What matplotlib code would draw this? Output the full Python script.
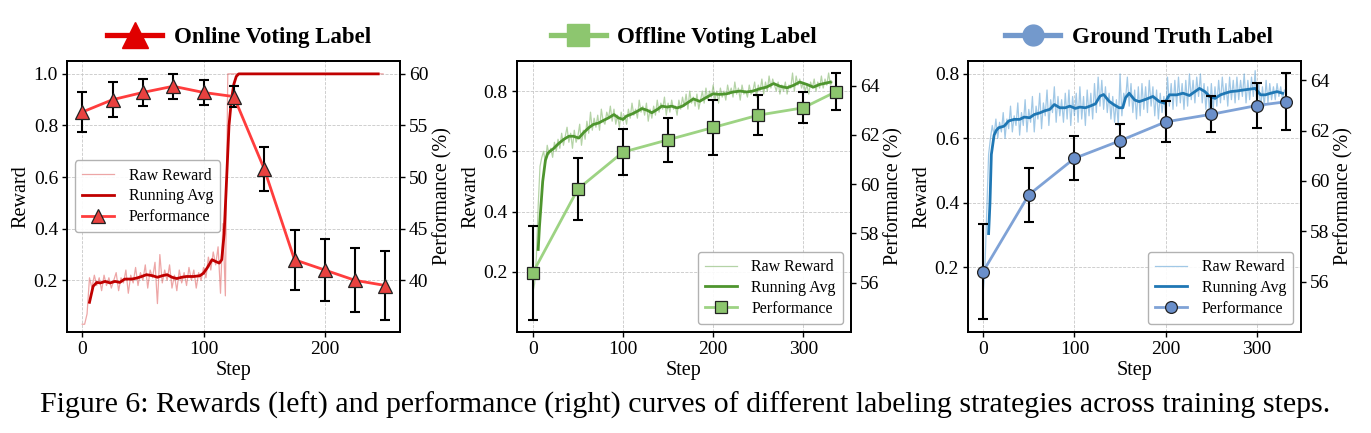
import numpy as np
import matplotlib
matplotlib.use('Agg')
import matplotlib.pyplot as plt
from matplotlib.lines import Line2D

# ---------------- data ----------------
# raw reward sampled every 2 steps
raw_step_1 = np.arange(0, 250, 2)
raw_1 = [0.03, 0.03, 0.07, 0.21, 0.17, 0.22, 0.18, 0.21, 0.16, 0.22,
         0.18, 0.21, 0.17, 0.20, 0.23, 0.16, 0.21, 0.19, 0.24, 0.15,
         0.22, 0.19, 0.25, 0.18, 0.23, 0.20, 0.26, 0.17, 0.24, 0.21,
         0.27, 0.11, 0.30, 0.19, 0.24, 0.20, 0.26, 0.17, 0.22, 0.16,
         0.24, 0.19, 0.23, 0.18, 0.25, 0.20, 0.24, 0.17, 0.23, 0.20,
         0.25, 0.21, 0.29, 0.24, 0.31, 0.26, 0.33, 0.15, 0.42, 0.14] + [1.0] * 65

avg_step_1 = [6, 9, 12, 15, 19, 23, 27, 31, 35, 41, 45, 49, 53, 58, 62, 66, 70,
              74, 78, 82, 86, 92, 97, 100, 103, 107, 110, 113, 115, 117, 119,
              121, 123, 125, 127, 129, 244]
avg_1 = [0.115, 0.177, 0.192, 0.190, 0.196, 0.190, 0.196, 0.192, 0.205, 0.205,
         0.209, 0.215, 0.222, 0.218, 0.212, 0.218, 0.222, 0.212, 0.207, 0.212,
         0.215, 0.215, 0.218, 0.228, 0.248, 0.280, 0.273, 0.267, 0.280, 0.380,
         0.590, 0.800, 0.900, 0.960, 0.990, 1.000, 1.000]

perf_step_1 = [0, 25, 50, 75, 100, 125, 150, 175, 200, 225, 250]
perf_1 = [56.3, 57.5, 58.2, 58.8, 58.2, 57.8, 50.8, 42.0, 41.0, 40.0, 39.5]
perf_err_1 = [1.9, 1.7, 1.3, 1.2, 1.2, 1.0, 2.1, 2.9, 3.0, 3.1, 3.35]

raw_step_2 = np.arange(0, 334, 2)
raw_2 = [0.13, 0.16, 0.25, 0.42, 0.55, 0.58, 0.60, 0.56, 0.62, 0.59,
         0.61, 0.58, 0.63, 0.60, 0.64, 0.61, 0.66, 0.62, 0.65, 0.68,
         0.63, 0.66, 0.61, 0.67, 0.63, 0.65, 0.69, 0.62, 0.67, 0.64,
         0.70, 0.66, 0.73, 0.67, 0.71, 0.68, 0.72, 0.67, 0.74, 0.70,
         0.69, 0.73, 0.71, 0.75, 0.70, 0.74, 0.69, 0.72, 0.68, 0.73,
         0.70, 0.72, 0.69, 0.74, 0.71, 0.76, 0.72, 0.74, 0.71, 0.77,
         0.73, 0.75, 0.72, 0.76, 0.70, 0.74, 0.71, 0.75, 0.72, 0.77,
         0.73, 0.76, 0.74, 0.78, 0.72, 0.76, 0.73, 0.77, 0.74, 0.75,
         0.72, 0.77, 0.74, 0.78, 0.75, 0.79, 0.74, 0.80, 0.76, 0.78,
         0.75, 0.79, 0.74, 0.77, 0.80, 0.76, 0.81, 0.77, 0.80, 0.78,
         0.82, 0.77, 0.80, 0.76, 0.81, 0.78, 0.80, 0.77, 0.82, 0.79,
         0.81, 0.78, 0.83, 0.79, 0.81, 0.77, 0.82, 0.79, 0.80, 0.78,
         0.82, 0.79, 0.80, 0.83, 0.78, 0.82, 0.80, 0.84, 0.79, 0.83,
         0.80, 0.85, 0.81, 0.84, 0.82, 0.80, 0.83, 0.79, 0.82, 0.80,
         0.83, 0.79, 0.82, 0.81, 0.86, 0.80, 0.85, 0.82, 0.84, 0.81,
         0.83, 0.80, 0.82, 0.79, 0.83, 0.81, 0.84, 0.80, 0.83, 0.81,
         0.85, 0.81, 0.84, 0.82, 0.86, 0.82, 0.83]

avg_step_2 = [6, 7.4, 11, 14, 16.7, 19, 23, 28, 34, 40, 45, 51, 56, 62, 67, 73,
              78, 84, 90, 95, 100, 104, 110, 116, 121, 127, 132, 138, 143, 149,
              154, 160, 166, 171, 178, 185, 193, 200, 207, 215, 222, 230, 237,
              244, 252, 259, 267, 274, 282, 289, 296, 304, 311, 318, 326, 330]
avg_2 = [0.274, 0.350, 0.500, 0.570, 0.594, 0.600, 0.609, 0.624, 0.639, 0.650,
         0.650, 0.644, 0.661, 0.678, 0.689, 0.694, 0.702, 0.711, 0.722, 0.711,
         0.706, 0.717, 0.724, 0.733, 0.742, 0.736, 0.728, 0.739, 0.750, 0.747,
         0.750, 0.744, 0.750, 0.760, 0.774, 0.766, 0.780, 0.791, 0.789, 0.791,
         0.797, 0.800, 0.797, 0.800, 0.808, 0.813, 0.825, 0.816, 0.811, 0.819,
         0.830, 0.822, 0.813, 0.822, 0.827, 0.830]

perf_step_2 = [0, 50, 100, 150, 200, 250, 300, 336]
perf_2 = [56.4, 59.8, 61.3, 61.8, 62.3, 62.8, 63.1, 63.75]
perf_err_2 = [1.9, 1.27, 0.92, 0.9, 1.1, 0.81, 0.63, 0.75]

raw_step_3 = np.arange(0, 334, 2)
raw_3 = [0.12, 0.20, 0.38, 0.55, 0.60, 0.64, 0.61, 0.66, 0.60, 0.65,
         0.62, 0.68, 0.60, 0.66, 0.63, 0.70, 0.62, 0.67, 0.64, 0.71,
         0.61, 0.68, 0.64, 0.72, 0.62, 0.69, 0.65, 0.73, 0.62, 0.70,
         0.66, 0.74, 0.63, 0.71, 0.67, 0.75, 0.64, 0.72, 0.68, 0.76,
         0.65, 0.73, 0.67, 0.72, 0.65, 0.74, 0.66, 0.75, 0.64, 0.73,
         0.67, 0.74, 0.65, 0.76, 0.66, 0.73, 0.64, 0.75, 0.67, 0.74,
         0.66, 0.77, 0.68, 0.79, 0.70, 0.78, 0.69, 0.76, 0.68, 0.74,
         0.66, 0.73, 0.65, 0.72, 0.64, 0.80, 0.67, 0.74, 0.72, 0.79,
         0.70, 0.77, 0.68, 0.75, 0.66, 0.76, 0.67, 0.77, 0.69, 0.76,
         0.68, 0.78, 0.70, 0.76, 0.67, 0.75, 0.66, 0.74, 0.68, 0.73,
         0.67, 0.79, 0.70, 0.77, 0.69, 0.78, 0.70, 0.79, 0.71, 0.77,
         0.69, 0.78, 0.70, 0.80, 0.72, 0.78, 0.71, 0.79, 0.73, 0.80,
         0.71, 0.77, 0.69, 0.76, 0.68, 0.77, 0.69, 0.76, 0.70, 0.78,
         0.71, 0.79, 0.72, 0.77, 0.70, 0.79, 0.72, 0.78, 0.71, 0.79,
         0.72, 0.78, 0.73, 0.80, 0.71, 0.78, 0.72, 0.79, 0.73, 0.81,
         0.70, 0.77, 0.69, 0.76, 0.70, 0.78, 0.71, 0.77, 0.72, 0.76,
         0.72, 0.77, 0.73, 0.76, 0.72, 0.75, 0.74]

avg_step_3 = [6, 7.5, 9, 12, 14.5, 17, 23, 28, 34, 40, 45, 51, 56, 62, 67, 73,
              78, 84, 90, 95, 101, 106, 112, 117, 123, 128, 132, 138, 143, 149,
              153, 156, 160, 166, 171, 179, 186, 193, 199, 204, 212, 219, 226,
              232, 237, 243, 248, 254, 260, 265, 271, 278, 285, 293, 298, 304,
              309, 315, 322, 328]
avg_3 = [0.305, 0.400, 0.550, 0.610, 0.625, 0.633, 0.638, 0.654, 0.659, 0.659,
         0.666, 0.664, 0.674, 0.679, 0.685, 0.690, 0.705, 0.695, 0.695, 0.700,
         0.693, 0.697, 0.695, 0.700, 0.707, 0.731, 0.736, 0.715, 0.705, 0.695,
         0.695, 0.726, 0.740, 0.719, 0.714, 0.722, 0.730, 0.714, 0.709, 0.735,
         0.735, 0.740, 0.733, 0.745, 0.755, 0.745, 0.730, 0.724, 0.735, 0.740,
         0.745, 0.747, 0.750, 0.753, 0.755, 0.735, 0.735, 0.740, 0.745, 0.740]

perf_step_3 = [0, 50, 100, 150, 200, 250, 300, 332]
perf_3 = [56.4, 59.45, 60.9, 61.6, 62.35, 62.65, 63.0, 63.15]
perf_err_3 = [1.9, 1.08, 0.87, 0.67, 0.81, 0.72, 0.89, 1.13]

titles = ['Online Voting Label', 'Offline Voting Label', 'Ground Truth Label']
caption = ('Figure 6: Rewards (left) and performance (right) curves of '
           'different labeling strategies across training steps.')

# ---------------- styles ----------------
fig_size, dots = (13.71, 4.33), 100
serif = 'Liberation Serif'

panels = [
    dict(raw_x=raw_step_1, raw=raw_1, avg_x=avg_step_1, avg=avg_1,
         px=perf_step_1, p=perf_1, pe=perf_err_1,
         raw_c='#d93a3a', avg_c='#c00000', perf_c='#ff3d3d', face='#e8413f',
         title_c='#e00000', marker='^', ms=10.5, title_ms=19,
         rect=[0.0489, 0.2333, 0.2429, 0.6259],
         xlim=(-12.5, 262), xticks=[0, 100, 200],
         ylim=(0.0, 1.05), yticks=[0.2, 0.4, 0.6, 0.8, 1.0],
         plim=(35.0, 61.25), pticks=[40, 45, 50, 55, 60],
         leg_loc='center left', title_x=0.1743),
    dict(raw_x=raw_step_2, raw=raw_2, avg_x=avg_step_2, avg=avg_2,
         px=perf_step_2, p=perf_2, pe=perf_err_2,
         raw_c='#5a9e3a', avg_c='#4e952e', perf_c='#9dd383', face='#8cc56e',
         title_c='#8dc66f', marker='s', ms=8.5, title_ms=16,
         rect=[0.3771, 0.2333, 0.2436, 0.6259],
         xlim=(-17.5, 352.8), xticks=[0, 100, 200, 300],
         ylim=(0.0, 0.9), yticks=[0.2, 0.4, 0.6, 0.8],
         plim=(54.0, 65.0), pticks=[56, 58, 60, 62, 64],
         leg_loc='lower right', title_x=0.4989),
    dict(raw_x=raw_step_3, raw=raw_3, avg_x=avg_step_3, avg=avg_3,
         px=perf_step_3, p=perf_3, pe=perf_err_3,
         raw_c='#2f86c8', avg_c='#1f77b4', perf_c='#7fa2d6', face='#6a8fca',
         title_c='#7399cc', marker='o', ms=8.5, title_ms=15,
         rect=[0.7061, 0.2333, 0.2429, 0.6259],
         xlim=(-16.5, 348.3), xticks=[0, 100, 200, 300],
         ylim=(0.0, 0.84), yticks=[0.2, 0.4, 0.6, 0.8],
         plim=(54.0, 64.77), pticks=[56, 58, 60, 62, 64],
         leg_loc='lower right', title_x=0.8308),
]


def mpl_customizations():
    plt.rcParams['font.family'] = [serif, 'DejaVu Serif']
    plt.rcParams['font.size'] = 14.5
    plt.rcParams['axes.linewidth'] = 1.3
    plt.rcParams['xtick.labelsize'] = 14
    plt.rcParams['ytick.labelsize'] = 14


def draw_panel(fig, d, title):
    ax = fig.add_axes(d['rect'])
    ax2 = ax.twinx()

    h_raw, = ax.plot(d['raw_x'], d['raw'], color=d['raw_c'], lw=0.9, alpha=0.45)
    h_avg, = ax.plot(d['avg_x'], d['avg'], color=d['avg_c'], lw=2.0)
    ax2.errorbar(d['px'], d['p'], yerr=d['pe'], fmt='none', ecolor='black',
                 elinewidth=1.5, capsize=3.5, capthick=1.5, zorder=2)
    h_perf, = ax2.plot(d['px'], d['p'], color=d['perf_c'], lw=2.0,
                       marker=d['marker'], ms=d['ms'], mfc=d['face'],
                       mec='#222222', mew=0.9, zorder=3)

    ax.set_xlim(d['xlim'])
    ax.set_xticks(d['xticks'])
    ax.set_ylim(d['ylim'])
    ax.set_yticks(d['yticks'])
    ax2.set_ylim(d['plim'])
    ax2.set_yticks(d['pticks'])
    ax.grid(True, ls='--', lw=0.6, color='#c8c8c8')
    ax.set_xlabel('Step', labelpad=2)
    ax.set_ylabel('Reward', labelpad=2)
    ax2.set_ylabel('Performance (%)', labelpad=3)
    for a in (ax, ax2):
        a.tick_params(length=3.5, width=1.0, pad=3)

    ax2.legend([h_raw, h_avg, h_perf], ['Raw Reward', 'Running Avg', 'Performance'],
               loc=d['leg_loc'], fontsize=11.5, handlelength=2.0,
               handletextpad=0.9, borderpad=0.45, labelspacing=0.3,
               framealpha=0.9, edgecolor='#aaaaaa', fancybox=True)

    # heading: a big line + marker handle with bold label
    proxy = Line2D([], [], color=d['title_c'], lw=3.8, marker=d['marker'],
                   ms=d['title_ms'], mfc=d['title_c'], mec=d['title_c'])
    fig.legend([proxy], [title], loc='center', bbox_to_anchor=(d['title_x'], 0.9145),
               frameon=False, handlelength=2.4, handletextpad=0.5,
               prop=dict(family=serif, weight='bold', size=16.5))
    return ax


mpl_customizations()
fig = plt.figure(figsize=fig_size, dpi=dots)
for d, t in zip(panels, titles):
    draw_panel(fig, d, t)
fig.text(0.5, 0.065, caption, ha='center', va='center', fontsize=21.5, family=serif)

fig.savefig('out.png', dpi=dots)
